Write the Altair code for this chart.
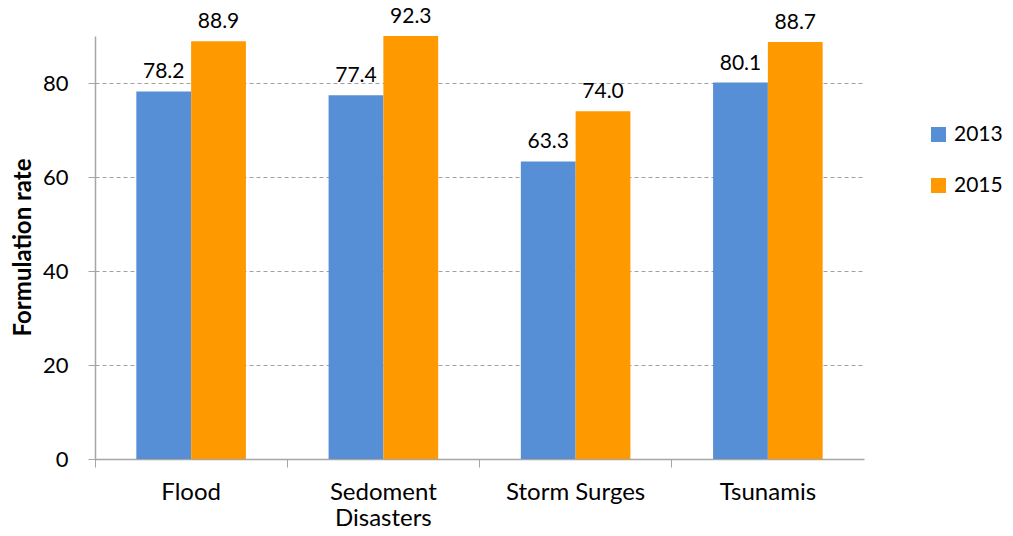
import altair as alt
import pandas as pd

categories = ["Flood", "Sedoment Disasters", "Storm Surges", "Tsunamis"]
years = ["2013", "2015"]
values_2013 = [78.2, 77.4, 63.3, 80.1]
values_2015 = [88.9, 92.3, 74.0, 88.7]
colors = ["#568FD6", "#FF9900"]
y_ticks = [0, 20, 40, 60, 80]

rows = []
for i, c in enumerate(categories):
    rows.append({"category": c, "year": years[0], "value": values_2013[i]})
    rows.append({"category": c, "year": years[1], "value": values_2015[i]})
df = pd.DataFrame(rows)

FONT = "Lato"
YMAX = 90
xscale = alt.Scale(domain=categories, paddingInner=0.43, paddingOuter=0.215)
yscale = alt.Scale(domain=[0, YMAX], nice=False)
color = alt.Color("year:N", scale=alt.Scale(domain=years, range=colors),
                  legend=alt.Legend(title=None, orient="none", legendX=833, legendY=88,
                                    symbolType="square", symbolSize=225, symbolStrokeWidth=0,
                                    labelFont=FONT, labelFontSize=21, labelColor="#000000",
                                    labelOffset=5, rowPadding=29, padding=0))

yaxis = alt.Axis(values=y_ticks, title="Formulation rate", titleFont=FONT, titleFontSize=24,
                 titleFontWeight="bold", titleColor="#000000", titleAngle=-90,
                 titleX=-72, titleY=211, titleAlign="center", titleBaseline="middle",
                 labelFont=FONT, labelFontSize=22, labelColor="#000000", labelPadding=20,
                 tickSize=7, tickColor="#A6A6A6", domainColor="#A6A6A6", domainWidth=1.5,
                 grid=True, gridColor="#A0A0A0", gridDash=[4, 3], gridWidth=1)

bars = alt.Chart(df).mark_bar(clip=True).encode(
    x=alt.X("category:N", scale=xscale, sort=categories,
            axis=alt.Axis(orient="bottom", title=None, labels=False, ticks=True, tickSize=8,
                          tickColor="#A6A6A6", domainColor="#A6A6A6", domainWidth=1.5,
                          bandPosition=-0.377, grid=False)),
    xOffset=alt.XOffset("year:N", sort=years),
    y=alt.Y("value:Q", scale=yscale, axis=yaxis),
    color=color,
)

text = alt.Chart(df).transform_calculate(
    label_y=f"datum.value > {YMAX} ? {YMAX} : datum.value",
    label="format(datum.value, '.1f')",
).mark_text(font=FONT, fontSize=21, color="#000000", baseline="bottom", dy=-9).encode(
    x=alt.X("category:N", scale=xscale, sort=categories,
            axis=alt.Axis(orient="bottom", title=None, ticks=False, domain=False, labelFont=FONT,
                          labelFontSize=24, labelColor="#000000", labelAngle=0,
                          labelPadding=21, labelLineHeight=26, labelBaseline="top",
                          labelExpr="datum.label == 'Sedoment Disasters' ? ['Sedoment', 'Disasters'] : datum.label")),
    xOffset=alt.XOffset("year:N", sort=years),
    y=alt.Y("label_y:Q", scale=yscale, axis=yaxis),
    text="label:N",
)

chart = alt.layer(bars, text).resolve_axis(x="independent").properties(
    width=769, height=423, background="white",
    autosize=alt.AutoSizeParams(type="none"),
    padding={"left": 87, "top": 28, "right": 141, "bottom": 69},
).configure_view(stroke=None)

chart.save("out.html", embed_options={"renderer": "svg", "actions": False})
